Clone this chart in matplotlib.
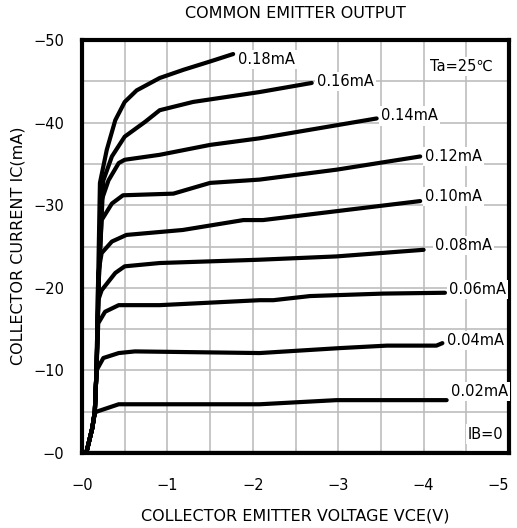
import numpy as np
import matplotlib
matplotlib.use('Agg')
import matplotlib.pyplot as plt

# collector characteristic, |VCE| (V) vs |IC| (mA)
vce_002 = [0.0, 0.05, 0.12, 0.15, 0.17, 0.43, 2.08, 2.98, 4.27]
ic_002 = [0.0, 0.0, 3.0, 4.8, 5.0, 5.9, 5.9, 6.4, 6.4]

vce_004 = [0.0, 0.05, 0.12, 0.15, 0.17, 0.25, 0.43, 0.62, 2.08, 3.02, 3.57, 4.15, 4.22]
ic_004 = [0.0, 0.0, 3.0, 5.0, 10.0, 11.5, 12.1, 12.3, 12.1, 12.7, 13.0, 13.0, 13.3]

vce_006 = [0.0, 0.05, 0.12, 0.15, 0.17, 0.19, 0.27, 0.43, 0.91, 2.08, 2.24, 2.67, 3.53, 4.25]
ic_006 = [0.0, 0.0, 3.0, 5.0, 10.0, 15.7, 17.1, 17.9, 17.9, 18.5, 18.5, 19.0, 19.3, 19.4]

vce_008 = [0.0, 0.05, 0.12, 0.15, 0.17, 0.19, 0.23, 0.39, 0.50, 0.91, 2.08, 2.98, 4.0]
ic_008 = [0.0, 0.0, 3.0, 5.0, 10.0, 18.5, 19.7, 21.8, 22.6, 23.0, 23.4, 23.8, 24.6]

vce_010 = [0.0, 0.05, 0.12, 0.15, 0.17, 0.19, 0.23, 0.35, 0.52, 1.18, 1.89, 2.12, 3.96]
ic_010 = [0.0, 0.0, 3.0, 5.0, 10.0, 21.8, 24.2, 25.6, 26.4, 27.0, 28.2, 28.2, 30.5]

vce_012 = [0.0, 0.05, 0.12, 0.15, 0.17, 0.20, 0.23, 0.35, 0.48, 1.07, 1.50, 2.08, 2.98, 3.96]
ic_012 = [0.0, 0.0, 3.0, 5.0, 10.0, 22.0, 28.2, 30.2, 31.2, 31.4, 32.7, 33.1, 34.3, 35.9]

vce_014 = [0.0, 0.05, 0.12, 0.15, 0.17, 0.20, 0.23, 0.31, 0.43, 0.50, 0.91, 1.50, 2.08, 3.45]
ic_014 = [0.0, 0.0, 3.0, 5.0, 10.0, 22.0, 30.6, 33.0, 35.1, 35.5, 36.1, 37.3, 38.1, 40.5]

vce_016 = [0.0, 0.05, 0.12, 0.15, 0.17, 0.20, 0.25, 0.35, 0.50, 0.74, 0.91, 1.30, 2.08, 2.69]
ic_016 = [0.0, 0.0, 3.0, 5.0, 10.0, 22.0, 33.0, 35.9, 38.3, 40.1, 41.5, 42.5, 43.7, 44.8]

vce_018 = [0.0, 0.05, 0.12, 0.15, 0.17, 0.21, 0.29, 0.39, 0.50, 0.64, 0.91, 1.19, 1.50, 1.77]
ic_018 = [0.0, 0.0, 3.0, 5.0, 10.0, 32.7, 36.7, 40.3, 42.5, 43.9, 45.4, 46.4, 47.4, 48.3]

vce_000 = [0.0, 4.46]
ic_000 = [0.0, 0.0]

curves = [(vce_000, ic_000), (vce_002, ic_002), (vce_004, ic_004), (vce_006, ic_006),
          (vce_008, ic_008), (vce_010, ic_010), (vce_012, ic_012), (vce_014, ic_014),
          (vce_016, ic_016), (vce_018, ic_018)]

curve_labels = ['IB=0', '0.02mA', '0.04mA', '0.06mA', '0.08mA', '0.10mA',
                '0.12mA', '0.14mA', '0.16mA', '0.18mA']
label_x = [4.52, 4.32, 4.27, 4.30, 4.13, 4.02, 4.02, 3.50, 2.75, 1.83]
label_y = [2.3, 7.4, 13.6, 19.8, 25.1, 31.0, 35.9, 40.8, 45.0, 47.6]

xticks = [0, 1, 2, 3, 4, 5]
yticks = [0, 10, 20, 30, 40, 50]

fig = plt.figure(figsize=(5.17, 5.28), dpi=100)
ax = fig.add_axes([82/517, 1-453/528, 427/517, 413/528])

for v, i in curves:
    ax.plot(v, i, color='black', lw=3.0, solid_capstyle='round', solid_joinstyle='round', zorder=3)

ax.set_xlim(0, 5)
ax.set_ylim(0, 50)
ax.set_xticks(np.arange(0, 5.01, 0.5), minor=False)
ax.set_yticks(np.arange(0, 50.1, 5))
ax.grid(True, color='#bdbdbd', lw=1.2, zorder=1)
ax.set_axisbelow(True)

ax.set_xticklabels(['\u2212%d' % t if t in xticks else '' for t in np.arange(0, 5.01, 0.5)])
ax.set_yticklabels(['\u2212%d' % t if t in yticks else '' for t in np.arange(0, 50.1, 5)])
ax.tick_params(axis='both', length=0, labelsize=10.5)
ax.tick_params(axis='x', pad=18)
ax.tick_params(axis='y', pad=13)
# last x label sits flush against the right edge
ax.get_xticklabels()[-1].set_horizontalalignment('right')

for s in ax.spines.values():
    s.set_linewidth(3.0)
    s.set_zorder(2.5)

for t, x, y in zip(curve_labels, label_x, label_y):
    ax.text(x, y, t, fontsize=10.5, ha='left', va='center', zorder=5,
            bbox=dict(facecolor='white', edgecolor='none', pad=1.5))

ax.text(4.07, 46.8, 'Ta=25\u2103', fontsize=10.5, ha='left', va='center', zorder=5,
        family=['DejaVu Sans', 'Noto Sans CJK JP'],
        bbox=dict(facecolor='white', edgecolor='none', pad=1.5))

fig.text(0.5 * (82 + 509) / 517, 1 - 13/528, 'COMMON EMITTER OUTPUT', fontsize=11.5,
         ha='center', va='center')
fig.text(0.5 * (82 + 509) / 517, 1 - 516/528, 'COLLECTOR EMITTER VOLTAGE VCE(V)', fontsize=11.5,
         ha='center', va='center')
fig.text(18/517, 1 - 246/528, 'COLLECTOR CURRENT IC(mA)', fontsize=11.5,
         ha='center', va='center', rotation=90)

fig.savefig('out.png', dpi=100)
